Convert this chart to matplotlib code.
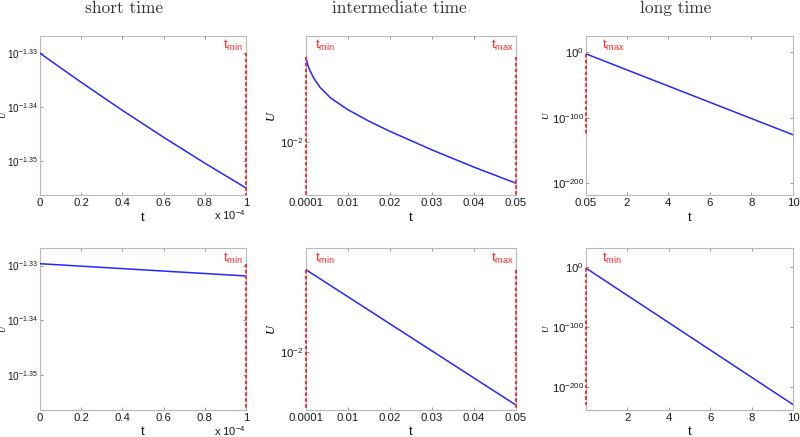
import matplotlib
matplotlib.use("Agg")
import matplotlib.pyplot as plt
from matplotlib.ticker import NullLocator

plt.rcParams['font.family'] = ['Liberation Sans', 'DejaVu Sans']
plt.rcParams['mathtext.fontset'] = 'custom'
plt.rcParams['mathtext.rm'] = 'Liberation Sans'
plt.rcParams['mathtext.it'] = 'Liberation Sans:italic'
plt.rcParams['mathtext.bf'] = 'Liberation Sans:bold'

# ---- data ----
col_titles = ["short time", "intermediate time", "long time"]

# short time
t_short_top = [0, 2e-5, 4e-5, 6e-5, 8e-5, 1e-4]
U_short_top = [0.046774, 0.046196, 0.045646, 0.045124, 0.044628, 0.044157]
t_short_bot = [0, 1e-4]
U_short_bot = [0.04681, 0.04657]

# intermediate time
t_mid_top = [1e-4, 5e-4, 1e-3, 2e-3, 3.5e-3, 6e-3, 0.01, 0.015, 0.02, 0.03, 0.04, 0.05]
U_mid_top = [0.044361, 0.038905, 0.035318, 0.030549, 0.026002, 0.021627,
             0.017701, 0.014454, 0.012078, 0.0087096, 0.0064269, 0.0048417]
t_mid_bot = [1e-4, 0.05]
U_mid_bot = [0.04657, 0.00373]

# long time
t_long_top = [0.05, 10]
U_long_top = [4.84e-3, 1e-126]
t_long_bot = [1e-4, 10]
U_long_bot = [3.73e-3, 1e-229]

# axis settings
short_xticks = [0, 2e-5, 4e-5, 6e-5, 8e-5, 1e-4]
short_xlabels = ["0", "0.2", "0.4", "0.6", "0.8", "1"]
short_yticks = [10 ** -1.35, 10 ** -1.34, 10 ** -1.33]
short_ylabels = [r"$10^{-1.35}$", r"$10^{-1.34}$", r"$10^{-1.33}$"]
short_ylim = (10 ** -1.3563, 10 ** -1.3268)

mid_xticks = [1e-4, 0.01, 0.02, 0.03, 0.04, 0.05]
mid_xlabels = ["0.0001", "0.01", "0.02", "0.03", "0.04", "0.05"]
mid_yticks = [1e-2]
mid_ylabels = [r"$10^{-2}$"]
mid_ylim_top = (10 ** -2.405, 10 ** -1.19)
mid_ylim_bot = (10 ** -2.468, 10 ** -1.156)

long_xticks_top = [0.05, 2, 4, 6, 8, 10]
long_xlabels_top = ["0.05", "2", "4", "6", "8", "10"]
long_xticks_bot = [2, 4, 6, 8, 10]
long_xlabels_bot = ["2", "4", "6", "8", "10"]
long_yticks = [1e-200, 1e-100, 1e0]
long_ylabels = [r"$10^{-200}$", r"$10^{-100}$", r"$10^{0}$"]
long_ylim_top = (1e-218, 1e25)
long_ylim_bot = (1e-238, 1e31)

# red dashed markers: (t position, U from, U to)
mark_short_top = [(1e-4, 0.04677, short_ylim[0])]
mark_short_bot = [(1e-4, 0.04681, short_ylim[0])]
mark_mid_top = [(1e-4, 0.04436, mid_ylim_top[0]), (0.05, 0.04436, mid_ylim_top[0])]
mark_mid_bot = [(1e-4, 0.04657, mid_ylim_bot[0]), (0.05, 0.04657, mid_ylim_bot[0])]
mark_long_top = [(0.05, 4.84e-3, 1e-126)]
mark_long_bot = [(1e-4, 3.73e-3, 1e-229)]

BLUE = "#2626ff"
RED = "#ff2b2b"
GRAY = "#b8b8b8"

fig = plt.figure(figsize=(8, 4.37), dpi=100)

col_x = [(0.05, 0.2575), (0.3825, 0.2625), (0.7325, 0.2588)]
row_y = [(0.5538, 0.3638), (0.0618, 0.3707)]


def style(ax, xlim, xticks, xlabels, ylim, yticks, ylabels, ysize):
    ax.set_yscale("log")
    ax.set_xlim(*xlim)
    ax.set_ylim(*ylim)
    ax.set_xticks(xticks, xlabels)
    ax.set_yticks(yticks, ylabels)
    ax.yaxis.set_minor_locator(NullLocator())
    ax.tick_params(which="both", direction="in", top=True, right=True,
                   length=2.5, width=0.6, color="#888888",
                   labelsize=8.2, labelcolor="#1a1a1a")
    ax.tick_params(axis="x", pad=2.5)
    ax.tick_params(axis="y", pad=1.5, labelsize=ysize)
    for s in ax.spines.values():
        s.set_color(GRAY)
        s.set_linewidth(0.8)


def marks(ax, marks_list):
    for tx, u0, u1 in marks_list:
        ax.plot([tx, tx], [u0, u1], color=RED, lw=1.4,
                ls=(0, (1.8, 1.2)), clip_on=False, zorder=5)


def label(ax, x, y, sub, ha):
    ax.text(x, y, r"$\mathrm{t_{" + sub + "}}$", transform=ax.transAxes,
            color=RED, fontsize=9.5, ha=ha, va="top")


panels = [
    # row, col, t, U, xlim, xticks, xlabels, ylim, yticks, ylabels, marks
    (0, 0, t_short_top, U_short_top, (0, 1e-4), short_xticks, short_xlabels,
     short_ylim, short_yticks, short_ylabels, mark_short_top),
    (0, 1, t_mid_top, U_mid_top, (1e-4, 0.05), mid_xticks, mid_xlabels,
     mid_ylim_top, mid_yticks, mid_ylabels, mark_mid_top),
    (0, 2, t_long_top, U_long_top, (0.05, 10), long_xticks_top, long_xlabels_top,
     long_ylim_top, long_yticks, long_ylabels, mark_long_top),
    (1, 0, t_short_bot, U_short_bot, (0, 1e-4), short_xticks, short_xlabels,
     short_ylim, short_yticks, short_ylabels, mark_short_bot),
    (1, 1, t_mid_bot, U_mid_bot, (1e-4, 0.05), mid_xticks, mid_xlabels,
     mid_ylim_bot, mid_yticks, mid_ylabels, mark_mid_bot),
    (1, 2, t_long_bot, U_long_bot, (1e-4, 10), long_xticks_bot, long_xlabels_bot,
     long_ylim_bot, long_yticks, long_ylabels, mark_long_bot),
]

for r, c, t, U, xlim, xt, xl, ylim, yt, yl, mk in panels:
    left, w = col_x[c]
    bottom, h = row_y[r]
    ax = fig.add_axes([left, bottom, w, h])
    ax.plot(t, U, color=BLUE, lw=1.1, zorder=4)
    style(ax, xlim, xt, xl, ylim, yt, yl, 7.2 if c == 0 else 8.2)
    marks(ax, mk)

    # red t_min / t_max labels
    if c == 0:
        label(ax, 0.985, 0.985, "min", "right")
    elif c == 1:
        label(ax, 0.045, 0.985, "min", "left")
        label(ax, 0.99, 0.985, "max", "right")
    else:
        label(ax, 0.075, 0.985, "max" if r == 0 else "min", "left")

    # axis labels
    ax.set_xlabel("t", fontsize=9)
    ax.xaxis.set_label_coords(0.5, -0.105 if r == 0 else -0.1)
    if c == 1:
        ax.set_ylabel("U", fontsize=9, family="Liberation Serif", style="italic")
        ax.yaxis.set_label_coords(-0.14, 0.5)
    elif c == 0:
        ax.set_ylabel("U", fontsize=6, family="Liberation Serif", style="italic")
        ax.yaxis.set_label_coords(-0.16, 0.5)
    else:
        ax.set_ylabel("U", fontsize=6.5, family="Liberation Serif", style="italic")
        ax.yaxis.set_label_coords(-0.175, 0.5)

    if c == 0:
        ax.text(1.0, -0.125 if r == 0 else -0.13, r"$\mathrm{x\ 10^{-4}}$",
                transform=ax.transAxes, ha="right", va="center",
                fontsize=8, color="#1a1a1a")

# column titles
for x, title in zip([0.155, 0.499, 0.845], col_titles):
    fig.text(x, 0.982, title, family="cmr10", fontsize=12.5,
             ha="center", va="center", color="#333333")

fig.savefig("out.png", dpi=100)
